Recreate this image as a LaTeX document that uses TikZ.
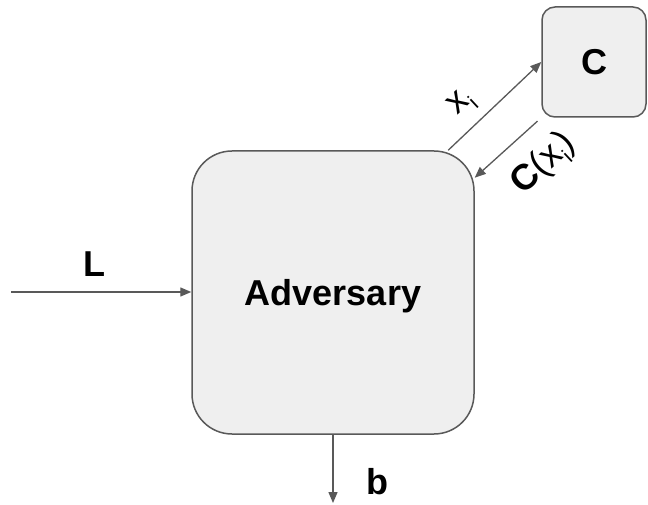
\documentclass[tikz,border=0pt]{standalone}
\usepackage{fontspec}
\setmainfont{Liberation Sans}
\usepackage{tikz}
\usetikzlibrary{arrows.meta,calc,positioning}
\definecolor{boxfill}{HTML}{EFEFEF}
\definecolor{boxline}{HTML}{595959}
\definecolor{wireink}{HTML}{595959}
\newcommand{\subi}{\raisebox{-9pt}{\fontsize{21}{23}\selectfont i}}

\begin{document}
\begin{tikzpicture}[x=1pt,y=1pt,>={Triangle[length=11pt,width=9pt]},
  line join=round,
  party/.style={draw=boxline,fill=boxfill,line width=1.5pt,
    font=\fontsize{36}{43}\selectfont\bfseries,text depth=0pt},
  wire/.style={draw=wireink,line width=1.3pt,->},
  tag/.style={inner sep=0pt,font=\fontsize{36}{43}\selectfont\bfseries},
  slant/.style={inner sep=0pt,rotate=43,font=\fontsize{36}{43}\selectfont}]
\path[use as bounding box] (0,0) rectangle (648,504);
\fill[white] (0,0) rectangle (648,504);

% the two parties
\node[party,rounded corners=40pt,minimum width=282pt,minimum height=283pt]
  (adv) at (333,211.5) {Adversary};
\node[party,rounded corners=13pt,minimum width=104pt,minimum height=110pt]
  (chal) at (594,442) {C};

% input L
\coordinate (lin) at (11,212);
\draw[wire] (lin) -- (lin -| adv.west);
\node[tag] (lab-L) at (94,240) {L};

% output bit b
\coordinate (bout) at (333,1);
\draw[wire] (adv.south) -- (bout);
\node[tag] (lab-b) at (377,22) {b};

% query x_i and answer C(x_i)
\draw[wire] (adv.51) -- (chal.west);
\node[slant] (lab-q) at (462,400) {x\subi};
\draw[wire,shorten <=5pt] (chal.south west) -- (adv.39);
\node[slant] (lab-a) at (544,340) {\textbf{C}(x\subi)};
\end{tikzpicture}
\end{document}
